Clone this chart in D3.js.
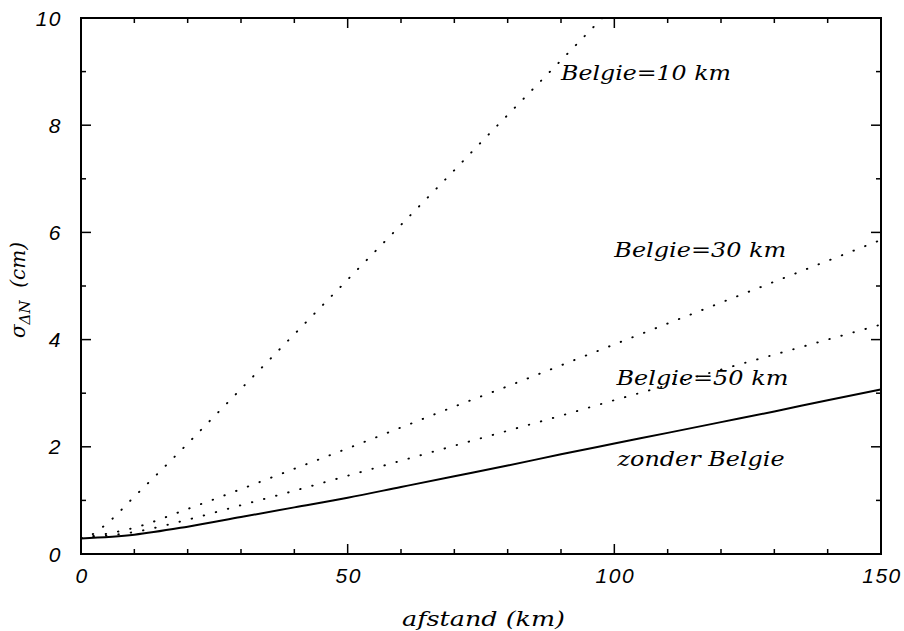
<!DOCTYPE html>
<html>
<head>
<meta charset="utf-8">
<script src="https://cdn.jsdelivr.net/npm/d3@7"></script>
<style>
  html, body { margin: 0; padding: 0; background: #fff; }
  svg { display: block; }
  .tick-label { font-family: "Liberation Sans", Arial, sans-serif; font-style: italic; font-size: 21px; letter-spacing: 1.5px; fill: #000; }
  .curve-label, .axis-title { font-family: "DejaVu Serif", "Liberation Serif", serif; font-style: italic; font-size: 20px; fill: #000; }
</style>
</head>
<body>
<svg id="chart" width="904" height="631"></svg>
<script>
// distance along the line (km)
const distance = [0, 10, 20, 30, 40, 50, 60, 70, 80, 90, 100, 110, 120, 130, 140, 150];
// standard deviation of height difference (cm), without Belgian points
const zonderBelgie = [0.29, 0.36, 0.51, 0.69, 0.87, 1.05, 1.25, 1.45, 1.65, 1.86, 2.06, 2.26, 2.46, 2.66, 2.87, 3.07];
// with Belgian points spaced 50 km
const belgie50 = [0.30, 0.41, 0.64, 0.91, 1.18, 1.46, 1.74, 2.02, 2.30, 2.58, 2.87, 3.15, 3.44, 3.72, 4.00, 4.28];
// with Belgian points spaced 30 km
const belgie30 = [0.30, 0.49, 0.84, 1.21, 1.59, 1.97, 2.36, 2.75, 3.13, 3.52, 3.91, 4.30, 4.69, 5.08, 5.47, 5.86];
// with Belgian points spaced 10 km (runs off the top near 98 km)
const distance10 = [0, 2, 5, 10, 15, 20, 25, 30, 35, 40, 45, 50, 55, 60, 65, 70, 75, 80, 85, 90, 95, 100];
const belgie10 = [0.30, 0.36, 0.58, 1.07, 1.56, 2.06, 2.57, 3.08, 3.59, 4.10, 4.61, 5.12, 5.63, 6.14, 6.65, 7.16, 7.68, 8.19, 8.70, 9.21, 9.72, 10.23];

const xTicksMajor = [0, 50, 100, 150];
const yTicksMajor = [0, 2, 4, 6, 8, 10];

const curveLabels = [
  { text: "Belgie=10 km", x: 90, y: 8.85, len: 170 },
  { text: "Belgie=30 km", x: 100, y: 5.55, len: 172 },
  { text: "Belgie=50 km", x: 100.4, y: 3.16, len: 172 },
  { text: "zonder Belgie", x: 100.6, y: 1.65, len: 167 }
];

const margin = { left: 81, right: 23, top: 18, bottom: 77 };
const W = 904, H = 631;
const svg = d3.select("#chart");

const x = d3.scaleLinear().domain([0, 150]).range([margin.left, W - margin.right]);
const y = d3.scaleLinear().domain([0, 10]).range([H - margin.bottom, margin.top]);

svg.append("defs").append("clipPath").attr("id", "plot-clip")
  .append("rect")
  .attr("x", x(0)).attr("y", y(10))
  .attr("width", x(150) - x(0)).attr("height", y(0) - y(10));

const line = d3.line().x(d => x(d[0])).y(d => y(d[1])).curve(d3.curveMonotoneX);
const plot = svg.append("g").attr("clip-path", "url(#plot-clip)");

const dotted = [
  d3.zip(distance10, belgie10),
  d3.zip(distance, belgie30),
  d3.zip(distance, belgie50)
];
plot.selectAll("path.dotted").data(dotted).join("path")
  .attr("class", "dotted")
  .attr("d", line)
  .attr("fill", "none")
  .attr("stroke", "#000")
  .attr("stroke-width", 1.9)
  .attr("stroke-linecap", "round")
  .attr("stroke-dasharray", "0.5 12");

plot.append("path")
  .attr("d", line(d3.zip(distance, zonderBelgie)))
  .attr("fill", "none")
  .attr("stroke", "#000")
  .attr("stroke-width", 2);

// frame ticks on all four sides, pointing inward
const frame = svg.append("g");

function drawTicks(values, isMajor, pos, inner) {
  values.forEach(v => {
    const len = isMajor(v) ? 10 : 5;
    const p = pos(v);
    frame.append("line").attr("stroke", "#000").attr("stroke-width", 1.5)
      .attr("x1", p.x1).attr("y1", p.y1)
      .attr("x2", p.x1 + inner.dx * len).attr("y2", p.y1 + inner.dy * len);
  });
}
const xMinor = d3.range(0, 151, 10);
const yMinor = d3.range(0, 11, 1);
const isXMajor = v => xTicksMajor.includes(v);
const isYMajor = v => yTicksMajor.includes(v);
drawTicks(xMinor, isXMajor, v => ({ x1: x(v), y1: y(0) }), { dx: 0, dy: -1 });
drawTicks(xMinor, isXMajor, v => ({ x1: x(v), y1: y(10) }), { dx: 0, dy: 1 });
drawTicks(yMinor, isYMajor, v => ({ x1: x(0), y1: y(v) }), { dx: 1, dy: 0 });
drawTicks(yMinor, isYMajor, v => ({ x1: x(150), y1: y(v) }), { dx: -1, dy: 0 });

frame.append("rect")
  .attr("x", x(0)).attr("y", y(10))
  .attr("width", x(150) - x(0)).attr("height", y(0) - y(10))
  .attr("fill", "none").attr("stroke", "#000").attr("stroke-width", 2);

// tick labels
svg.append("g").selectAll("text").data(xTicksMajor).join("text")
  .attr("class", "tick-label")
  .attr("x", d => x(d) + 1).attr("y", y(0) + 29)
  .attr("text-anchor", "middle")
  .text(d => d3.format("d")(d));

svg.append("g").selectAll("text").data(yTicksMajor).join("text")
  .attr("class", "tick-label")
  .attr("x", x(0) - 19).attr("y", d => y(d) + 7.5)
  .attr("text-anchor", "end")
  .text(d => d3.format("d")(d));

// curve annotations
svg.append("g").selectAll("text").data(curveLabels).join("text")
  .attr("class", "curve-label")
  .attr("x", d => x(d.x)).attr("y", d => y(d.y))
  .attr("textLength", d => d.len)
  .attr("lengthAdjust", "spacingAndGlyphs")
  .text(d => d.text);

// axis titles
svg.append("text").attr("class", "axis-title")
  .attr("x", 402).attr("y", 626)
  .attr("textLength", 163).attr("lengthAdjust", "spacingAndGlyphs")
  .text("afstand (km)");

const yt = svg.append("text").attr("class", "axis-title")
  .attr("transform", "translate(25,290) rotate(-90)")
  .attr("text-anchor", "middle")
  .attr("font-size", 21);
yt.append("tspan").text("σ");
yt.append("tspan").attr("dy", 5).attr("font-size", 15).text("ΔN");
yt.append("tspan").attr("dy", -5).text("\u00a0\u00a0(cm)");
</script>
</body>
</html>
